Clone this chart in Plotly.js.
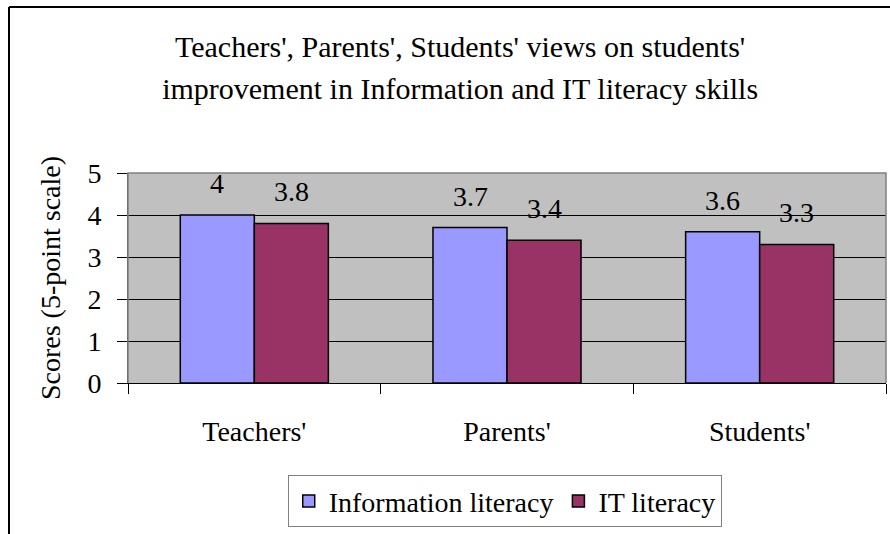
<!DOCTYPE html>
<html>
<head>
<meta charset="utf-8">
<script src="https://cdn.plot.ly/plotly-3.0.1.min.js"></script>
<style>html,body{margin:0;padding:0;background:#fff;}#chart{width:890px;height:534px;}</style>
</head>
<body>
<div id="chart"></div>
<script>
const categories = ["Teachers'", "Parents'", "Students'"];
const seriesNames = ["Information literacy", "IT literacy"];
const infoLiteracy = [4, 3.7, 3.6];
const itLiteracy = [3.8, 3.4, 3.3];
const yTickVals = [0, 1, 2, 3, 4, 5];

const FONT = "'Liberation Serif', 'Times New Roman', serif";
const colors = ["#9999FF", "#993366"];
const seriesValues = [infoLiteracy, itLiteracy];

const traces = seriesValues.map((vals, i) => ({
  type: "bar",
  name: seriesNames[i],
  x: categories,
  y: vals,
  marker: {color: colors[i], line: {color: "#000", width: 1.5}},
  hoverinfo: "x+y+name"
}));

const annotations = [];
seriesValues.forEach((vals, i) => {
  vals.forEach((v, j) => {
    annotations.push({
      x: categories[j], y: v, xref: "x", yref: "y",
      text: String(v), showarrow: false,
      xanchor: "center", yanchor: "bottom",
      xshift: i === 0 ? -37 : 37, yshift: 14,
      font: {family: FONT, size: 28, color: "#000"}
    });
  });
});

const layout = {
  width: 890, height: 534,
  paper_bgcolor: "#fff",
  plot_bgcolor: "#C0C0C0",
  margin: {l: 128, r: 4, t: 173, b: 151},
  font: {family: FONT, color: "#000"},
  title: {
    text: "<span style='font-size:30px'>Teachers', Parents', Students' views on students'</span><br><span style='font-size:30px'>improvement in Information and IT literacy skills</span>",
    font: {family: FONT, size: 32, color: "#000"},
    x: 0.517, xref: "container", xanchor: "center",
    y: 0.893, yref: "container", yanchor: "middle"
  },
  barmode: "group",
  bargap: 0.414,
  bargroupgap: 0,
  showlegend: true,
  legend: {
    orientation: "h",
    x: 0.497, xanchor: "center",
    y: -0.44, yanchor: "top",
    bgcolor: "#fff", bordercolor: "#808080", borderwidth: 1,
    font: {family: FONT, size: 28, color: "#000"},
    itemwidth: 30, tracegroupgap: 0
  },
  xaxis: {
    type: "category",
    showgrid: false,
    showline: true, linecolor: "#000", linewidth: 1,
    ticks: "outside", tickson: "boundaries", ticklen: 10, tickcolor: "#000", tickwidth: 1,
    ticklabelstandoff: 23,
    tickfont: {family: FONT, size: 28, color: "#000"},
    fixedrange: true
  },
  yaxis: {
    range: [0, 5],
    tickvals: yTickVals,
    showgrid: true, gridcolor: "#000", gridwidth: 1,
    zeroline: false,
    showline: true, linecolor: "#404040", linewidth: 1,
    ticks: "outside", ticklen: 10, tickcolor: "#000", tickwidth: 1,
    ticklabelstandoff: 10,
    tickfont: {family: FONT, size: 28, color: "#000"},
    title: {text: "Scores (5-point scale)", font: {family: FONT, size: 28, color: "#000"}, standoff: 18},
    fixedrange: true
  },
  annotations: annotations,
  shapes: [
    {type: "path", xref: "paper", yref: "paper", layer: "above",
     path: "M 0 0 L 0 1 L 1 1 L 1 0", line: {color: "#808080", width: 1.5}},
    {type: "line", xref: "paper", yref: "paper", layer: "above",
     x0: (9 - 128) / 758, x1: (890 - 128) / 758, y0: (383 - 7) / 210, y1: (383 - 7) / 210,
     line: {color: "#000", width: 2}},
    {type: "line", xref: "paper", yref: "paper", layer: "above",
     x0: (9 - 128) / 758, x1: (9 - 128) / 758, y0: (383 - 7) / 210, y1: (383 - 540) / 210,
     line: {color: "#000", width: 2}}
  ]
};

Plotly.newPlot("chart", traces, layout, {displayModeBar: false, staticPlot: true});
</script>
</body>
</html>
